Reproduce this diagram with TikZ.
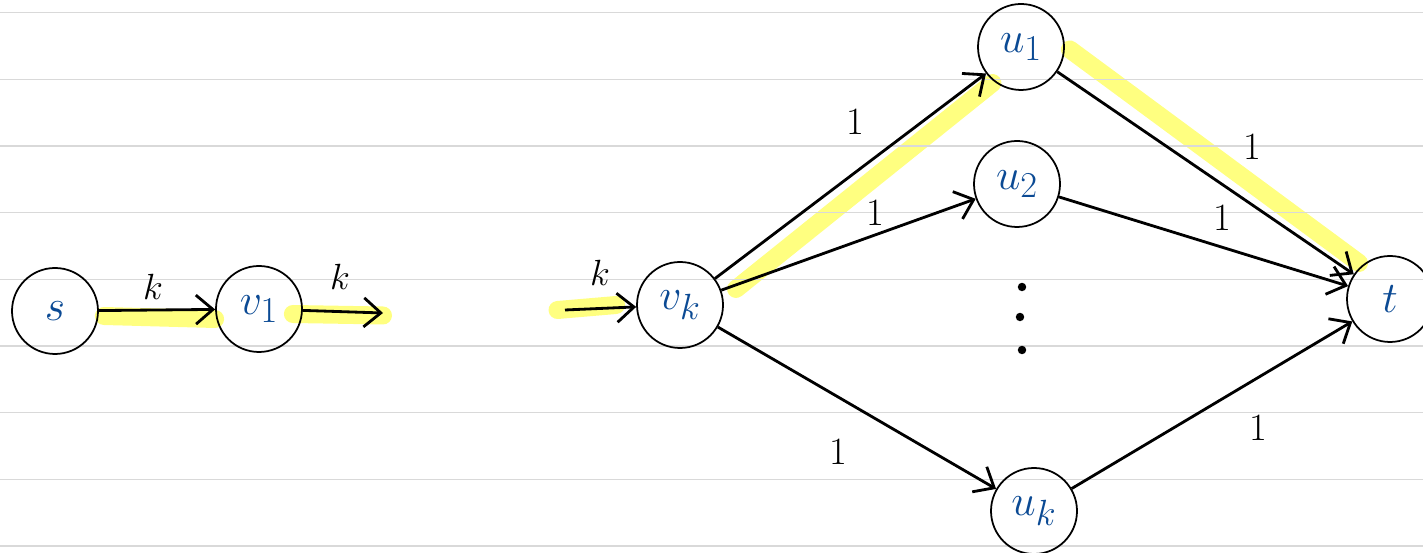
\documentclass[tikz,border=0pt]{standalone}
\usepackage{tikz}
\usepackage{amsmath}
\usetikzlibrary{arrows.meta,backgrounds}

\definecolor{inkblue}{HTML}{0B4A94}
\definecolor{ruleline}{HTML}{D9D9D9}
\definecolor{marker}{HTML}{FFFF80}

\begin{document}
\begin{tikzpicture}[
    vtx/.style={circle, draw, line width=1pt, minimum size=1.72cm, inner sep=0pt,
                text=inkblue, font=\fontsize{32}{36}\selectfont},
    flow/.style={line width=1.6pt, -{Straight Barb[length=3.4mm, width=5.8mm, line width=1.6pt]}},
    wlabel/.style={font=\fontsize{22}{24}\selectfont},
    hl/.style={line width=3.6mm, marker, line cap=round},
    dot/.style={circle, fill, inner sep=1.7pt}
  ]
  \useasboundingbox (0,0) rectangle (28.46,11.06);
  % ruled paper
  \foreach \y in {10.806,9.474,8.14,6.806,5.474,4.14,2.806,1.474,0.14}
    \draw[ruleline, line width=0.8pt] (0,\y) -- (28.46,\y);

  \node[vtx] at (1.10, 4.84) (s) {\(s\)};
  \node[vtx] at (5.18, 4.88) (v1) {\(v_1\)};
  \node[vtx] at (13.60, 4.96) (vk) {\(v_k\)};
  \node[vtx] at (20.42, 10.12) (u1) {\(u_1\)};
  \node[vtx] at (20.34, 7.38) (u2) {\(u_2\)};
  \node[vtx] at (20.68, 0.84) (uk) {\(u_k\)};
  \node[vtx] at (27.80, 5.08) (t) {\(t\)};

  \coordinate (out1) at (7.66, 4.80);
  \coordinate (ink) at (11.30, 4.86);

  \node[dot] at (20.44, 5.32) (d1) {};
  \node[dot] at (20.40, 4.72) (d2) {};
  \node[dot] at (20.44, 4.06) (d3) {};

  % highlighted path
  \begin{scope}[on background layer]
    \draw[hl] ([xshift=1mm,yshift=-1mm]s.east) -- ([yshift=-2mm]v1.west);
    \draw[hl] ([xshift=-2mm,yshift=-1mm]v1.east) -- ([yshift=-0.5mm]out1);
    \draw[hl] ([xshift=-1.5mm]ink) -- ([xshift=-4mm,yshift=0mm]vk.west);
    \draw[hl] ([xshift=5mm,yshift=-3mm]vk.north east) -- ([xshift=0.5mm,yshift=-1mm]u1.south west);
    \draw[hl] ([xshift=1mm,yshift=-0.5mm]u1.east) -- ([xshift=0mm,yshift=1mm]t.north west);
  \end{scope}

  \draw[flow] (s) -- (v1);
  \draw[flow] (v1) -- (out1);
  \draw[flow] (ink) -- (vk);
  \draw[flow] (vk) -- (u1);
  \draw[flow] (vk) -- (u2);
  \draw[flow] (vk) -- (uk);
  \draw[flow] (u1) -- (t);
  \draw[flow] (u2) -- (t);
  \draw[flow] (uk) -- (t);

  \node[wlabel] at (3.06, 5.32) (ks) {\(k\)};
  \node[wlabel] at (6.80, 5.52) (kv) {\(k\)};
  \node[wlabel] at (12.00, 5.60) (kin) {\(k\)};
  \node[wlabel] at (17.10, 8.62) (c1) {1};
  \node[wlabel] at (17.50, 6.80) (c2) {1};
  \node[wlabel] at (16.76, 2.02) (c3) {1};
  \node[wlabel] at (25.04, 8.12) (c4) {1};
  \node[wlabel] at (24.44, 6.70) (c5) {1};
  \node[wlabel] at (25.16, 2.50) (c6) {1};
\end{tikzpicture}
\end{document}
